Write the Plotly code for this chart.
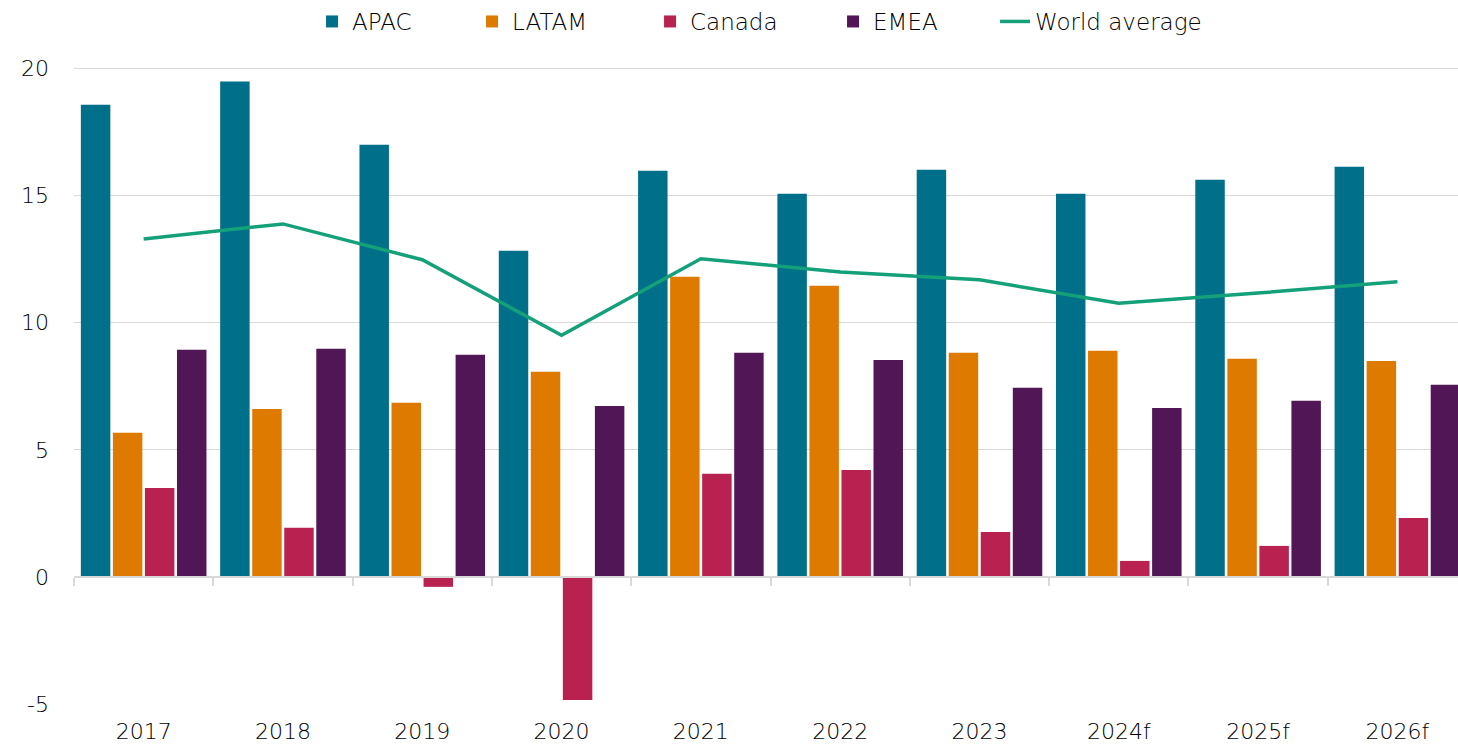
import plotly.graph_objects as go

# Datos
years = ["2017", "2018", "2019", "2020", "2021", "2022", "2023", "2024f", "2025f", "2026f"]
apac = [18.58, 19.49, 17.0, 12.83, 15.98, 15.08, 16.02, 15.08, 15.63, 16.14]
latam = [5.67, 6.61, 6.85, 8.07, 11.81, 11.46, 8.82, 8.90, 8.58, 8.50]
canada = [3.50, 1.93, -0.39, -4.84, 4.06, 4.21, 1.77, 0.63, 1.22, 2.32]
emea = [8.94, 8.98, 8.74, 6.73, 8.82, 8.54, 7.44, 6.65, 6.93, 7.56]
world_avg = [13.30, 13.89, 12.48, 9.51, 12.52, 12.0, 11.69, 10.77, 11.17, 11.61]

y_ticks = [-5, 0, 5, 10, 15, 20]
y_tick_labels = ["-5", "0", "5", "10", "15", "20"]

colors = {
    "APAC": "#006F89",
    "LATAM": "#DE7A00",
    "Canada": "#B92150",
    "EMEA": "#501656",
    "World average": "#14A078",
}

# ancho de cada entrada de la leyenda (px)
legend_widths = {"APAC": 115, "LATAM": 133, "Canada": 138, "EMEA": 117, "World average": 180}

FONT = "'DejaVu Sans', Inter, sans-serif"
GRID = "#D9D9D9"

fig = go.Figure()

for name, vals in [("APAC", apac), ("LATAM", latam), ("Canada", canada), ("EMEA", emea)]:
    fig.add_trace(
        go.Bar(
            x=years,
            y=vals,
            name=name,
            marker_color=colors[name],
            marker_line_width=0,
            legendwidth=legend_widths[name],
        )
    )

fig.add_trace(
    go.Scatter(
        x=years,
        y=world_avg,
        name="World average",
        mode="lines",
        line=dict(color=colors["World average"], width=3.5),
        legendwidth=legend_widths["World average"],
    )
)

# eje auxiliar en y=0 para la línea base con marcas entre categorías
fig.add_trace(
    go.Scatter(
        x=years,
        y=[0] * len(years),
        xaxis="x2",
        mode="markers",
        marker=dict(opacity=0),
        showlegend=False,
        hoverinfo="skip",
    )
)

y_min, y_max = -5, 20.3
zero_pos = (0 - y_min) / (y_max - y_min)
# el gráfico original está recortado por la derecha
x_range = [-0.5, 9.435]

fig.update_layout(
    width=1458,
    height=749,
    barmode="group",
    bargap=0.08,
    bargroupgap=0.08,
    plot_bgcolor="white",
    paper_bgcolor="white",
    font=dict(family=FONT, size=22, color="#000000", weight=300),
    margin=dict(l=74, r=0, t=61, b=45, autoexpand=False),
    legend=dict(
        orientation="h",
        x=0.172,
        xanchor="left",
        y=1.0,
        yref="container",
        yanchor="top",
        font=dict(size=23, weight=300),
        itemwidth=30,
        traceorder="normal",
    ),
    xaxis=dict(
        type="category",
        categoryorder="array",
        categoryarray=years,
        range=x_range,
        automargin=False,
        showgrid=False,
        showline=False,
        ticks="",
        ticklabelstandoff=12,
        zeroline=False,
    ),
    xaxis2=dict(
        type="category",
        categoryorder="array",
        categoryarray=years,
        matches="x",
        overlaying="x",
        anchor="free",
        position=zero_pos,
        side="bottom",
        showline=True,
        linecolor=GRID,
        linewidth=1.5,
        ticks="outside",
        tickson="boundaries",
        ticklen=8,
        tickcolor=GRID,
        tickwidth=1.5,
        showticklabels=False,
        showgrid=False,
    ),
    yaxis=dict(
        range=[y_min, y_max],
        tickvals=y_ticks,
        ticktext=y_tick_labels,
        automargin=False,
        showgrid=True,
        gridcolor=GRID,
        gridwidth=1,
        zeroline=False,
        ticks="",
        ticklabelstandoff=24,
    ),
    hovermode="x",
)

fig.write_html(
    "out.html",
    config={"displayModeBar": False},
    post_script="document.body.style.margin='0';",
)
